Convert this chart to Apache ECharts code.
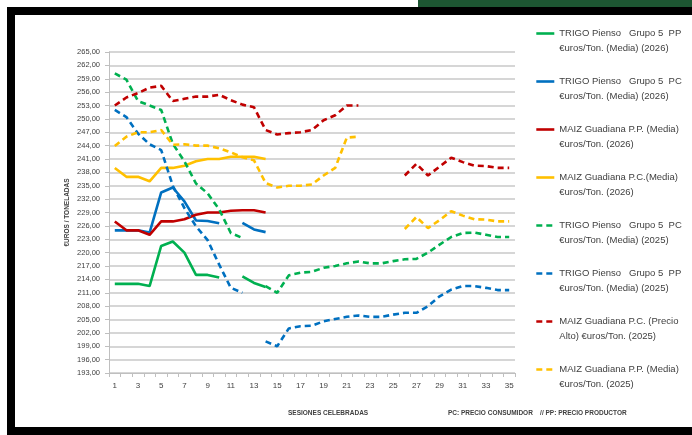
<!DOCTYPE html>
<html>
<head>
<meta charset="utf-8">
<script src="https://cdn.jsdelivr.net/npm/echarts@6/dist/echarts.min.js"></script>
<style>
html,body{margin:0;padding:0;background:#fff;width:692px;height:435px;overflow:hidden;}
#frame{position:absolute;left:7px;top:7px;width:720px;height:428px;border:8px solid #000;box-sizing:border-box;}
#bar{position:absolute;left:418px;top:0;width:274px;height:7px;background:#1d5632;}
#chart{position:absolute;left:0;top:0;width:692px;height:435px;}
</style>
</head>
<body>
<div id="frame"></div>
<div id="bar"></div>
<div id="chart"></div>
<script>
var categories = ['1','2','3','4','5','6','7','8','9','10','11','12','13','14','15','16','17','18','19','20','21','22','23','24','25','26','27','28','29','30','31','32','33','34','35'];

var seriesNames = [
  'TRIGO Pienso   Grupo 5  PP\n€uros/Ton. (Media) (2026)',
  'TRIGO Pienso   Grupo 5  PC\n€uros/Ton. (Media) (2026)',
  'MAIZ Guadiana P.P. (Media)\n€uros/Ton. (2026)',
  'MAIZ Guadiana P.C.(Media)\n€uros/Ton. (2026)',
  'TRIGO Pienso   Grupo 5  PC\n€uros/Ton. (Media) (2025)',
  'TRIGO Pienso   Grupo 5  PP\n€uros/Ton. (Media) (2025)',
  'MAIZ Guadiana P.C. (Precio\nAlto) €uros/Ton. (2025)',
  'MAIZ Guadiana P.P. (Media)\n€uros/Ton. (2025)'
];

var trigoPP2026 = [213,213,213,212.5,221.5,222.5,220,215,215,214.4,null,214.7,213.2,212.3];
var trigoPC2026 = [225,225,225,224.5,233.5,234.6,231.5,227.2,227.1,226.6,null,226.7,225.2,224.6];
var maizPP2026  = [227,225,225,224,227,227,227.5,228.5,229,229,229.4,229.5,229.5,229];
var maizPC2026  = [239,237,237,236,239,239,239.5,240.5,241,241,241.5,241.5,241.5,241];
var trigoPC2025 = [260.2,258.8,254,253,252,244.4,240.5,235.5,233.3,229.7,224.4,223.3,null,212.5,211,214.9,215.5,215.7,216.6,217,217.6,218,217.6,217.6,218.1,218.5,218.6,220,221.8,223.5,224.4,224.5,224,223.5,223.5];
var trigoPP2025 = [252,250.4,246.7,244.3,243,235,230,225.9,222.8,217.3,212.1,211,null,200.1,199,203,203.5,203.6,204.6,205.1,205.6,205.9,205.6,205.6,206.1,206.5,206.5,208,210.2,211.7,212.5,212.5,212.1,211.6,211.6];
var maizPCAlto2025 = [253,254.8,255.8,257,257.4,254,254.5,255,255,255.4,254.2,253.2,252.6,247.5,246.5,246.8,247,247.5,249.7,250.8,253,253,null,null,null,237.3,239.9,237.3,239.3,241.3,240.3,239.5,239.4,239,239];
var maizPP2025 = [243.9,246,247,247,247.5,244.2,244.3,244,244,243.4,242.5,241.4,240.7,235.6,234.6,235,235,235.3,237.3,239,245.8,246,null,null,null,225.3,228,225.5,227.3,229.3,228.3,227.5,227.4,227,227];

var seriesData = [trigoPP2026, trigoPC2026, maizPP2026, maizPC2026, trigoPC2025, trigoPP2025, maizPCAlto2025, maizPP2025];
var colors = ['#00b050','#0070c0','#c00000','#ffc000','#00b050','#0070c0','#c00000','#ffc000'];
var dashed = [false,false,false,false,true,true,true,true];

var FONT = 'Liberation Sans, Arial, sans-serif';

var series = seriesData.map(function(d, i){
  return {
    name: seriesNames[i],
    type: 'line',
    data: d,
    symbol: 'none',
    showSymbol: false,
    connectNulls: false,
    smooth: false,
    z: dashed[i] ? 3 : 2,
    lineStyle: {color: colors[i], width: 2.6, type: dashed[i] ? [6,4] : 'solid'},
    itemStyle: {color: colors[i]}
  };
});

var chart = echarts.init(document.getElementById('chart'), null, {renderer:'canvas'});
chart.setOption({
  animation: false,
  color: colors,
  grid: {left: 109, right: 177, top: 52, bottom: 62, containLabel: false},
  xAxis: {
    type: 'category',
    data: categories,
    boundaryGap: true,
    axisLine: {lineStyle: {color: '#bfbfbf', width: 1}},
    axisTick: {show: true, interval: 0, length: 4, lineStyle: {color: '#bfbfbf'}},
    axisLabel: {interval: 1, color: '#404040', fontSize: 8, fontFamily: FONT, margin: 9},
    splitLine: {show: false}
  },
  yAxis: {
    type: 'value',
    min: 193, max: 265, interval: 3,
    name: '€UROS / TONELADAS',
    nameLocation: 'middle',
    nameGap: 38,
    nameRotate: 90,
    nameMoveOverlap: false,
    nameTextStyle: {color: '#404040', fontSize: 6.5, fontWeight: 'bold', fontFamily: FONT},
    axisLine: {show: true, lineStyle: {color: '#bfbfbf'}},
    axisTick: {show: true, length: 4, lineStyle: {color: '#bfbfbf'}},
    axisLabel: {color: '#404040', fontSize: 7.5, fontFamily: FONT, margin: 9,
      formatter: function(v){ return v.toFixed(2).replace('.', ','); }},
    splitLine: {show: true, lineStyle: {color: '#c8c8c8', width: 1.6}}
  },
  legend: {
    orient: 'vertical',
    left: 535,
    top: 11,
    padding: 0,
    itemGap: 3,
    itemWidth: 18,
    itemHeight: 6,
    itemStyle: {opacity: 0},
    lineStyle: {width: 2.6},
    textStyle: {color: '#404040', fontSize: 9.5, fontFamily: FONT, lineHeight: 15},
    formatter: function(name){ return '\u00a0\n' + name; },
    data: seriesNames
  },
  graphic: [
    {type: 'text', left: 288, top: 410, style: {text: 'SESIONES CELEBRADAS', fill: '#404040', font: 'bold 6.5px ' + FONT}},
    {type: 'text', left: 448, top: 410, style: {text: 'PC: PRECIO CONSUMIDOR    // PP: PRECIO PRODUCTOR', fill: '#404040', font: 'bold 6.5px ' + FONT}}
  ],
  series: series
});
</script>
</body>
</html>
